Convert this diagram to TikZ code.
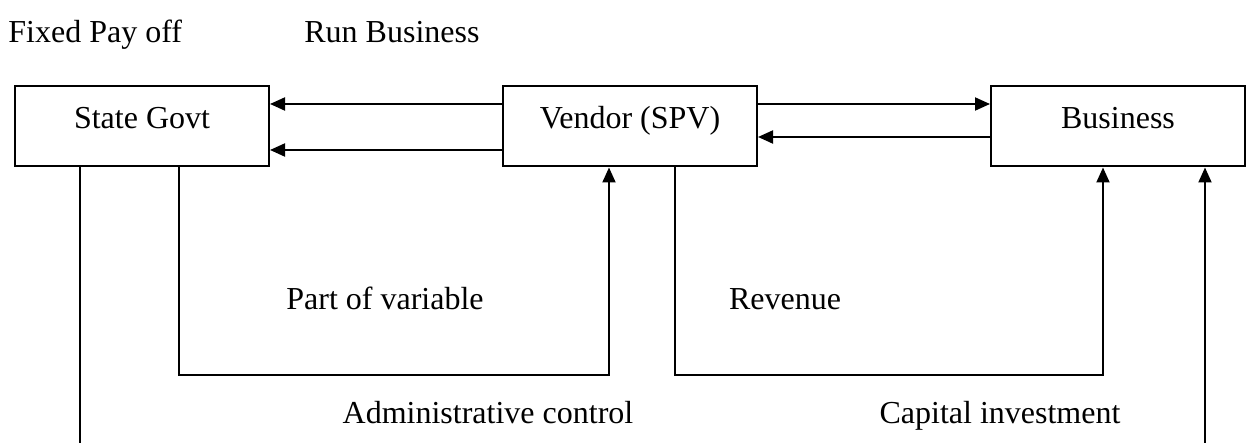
\documentclass[tikz,border=0pt]{standalone}
\usepackage{fontspec}
\setmainfont{Liberation Serif}
\usetikzlibrary{arrows.meta}
\begin{document}
\begin{tikzpicture}[x=0.5pt,y=-0.5pt,
  every node/.style={font=\fontsize{16}{19}\selectfont},
  box/.style={draw,line width=1pt,minimum width=127pt,inner sep=0pt,text height=21.25pt,text depth=18.75pt},
  lbl/.style={inner sep=0pt},
  conn/.style={line width=1pt},
  arr/.style={conn,-{Triangle[length=7.5pt,width=6.5pt]}}]
\useasboundingbox (0,0) rectangle (1248,443);
\node[box] (state) at (142,126.5) {State Govt};
\node[box] (vendor) at (630,126.5) {Vendor (SPV)};
\node[box] (business) at (1118,126.5) {Business};
\node[lbl,anchor=base west] (fixed) at (8,43) {Fixed Pay off};
\node[lbl,anchor=base west] (run) at (304,43) {Run Business};
\node[lbl,anchor=base] (part) at (385,310) {Part of variable};
\node[lbl,anchor=base] (rev) at (785,310) {Revenue};
\node[lbl,anchor=base] (admin) at (488,423) {Administrative control};
\node[lbl,anchor=base] (cap) at (1000,423) {Capital investment};
% horizontal arrows
\draw[arr] ([yshift=11.25pt]vendor.west) -- ([yshift=11.25pt]state.east);
\draw[arr] ([yshift=-11.75pt]vendor.west) -- ([yshift=-11.75pt]state.east);
\draw[arr] ([yshift=11.25pt]vendor.east) -- ([yshift=11.25pt]business.west);
\draw[arr] ([yshift=-5.25pt]business.west) -- ([yshift=-5.25pt]vendor.east);
% bottom routes
\coordinate (c1) at (179,375);
\coordinate (c2) at (609,375);
\coordinate (c3) at (675,375);
\coordinate (c4) at (1103,375);
\coordinate (c5) at (80,443);
\coordinate (c6) at (1205,443);
\draw[arr] (state.south -| c1) -- (c1) -- (c2) -- (vendor.south -| c2);
\draw[arr] (vendor.south -| c3) -- (c3) -- (c4) -- (business.south -| c4);
\draw[conn] (state.south -| c5) -- (c5);
\draw[arr] (c6) -- (business.south -| c6);
\end{tikzpicture}
\end{document}
